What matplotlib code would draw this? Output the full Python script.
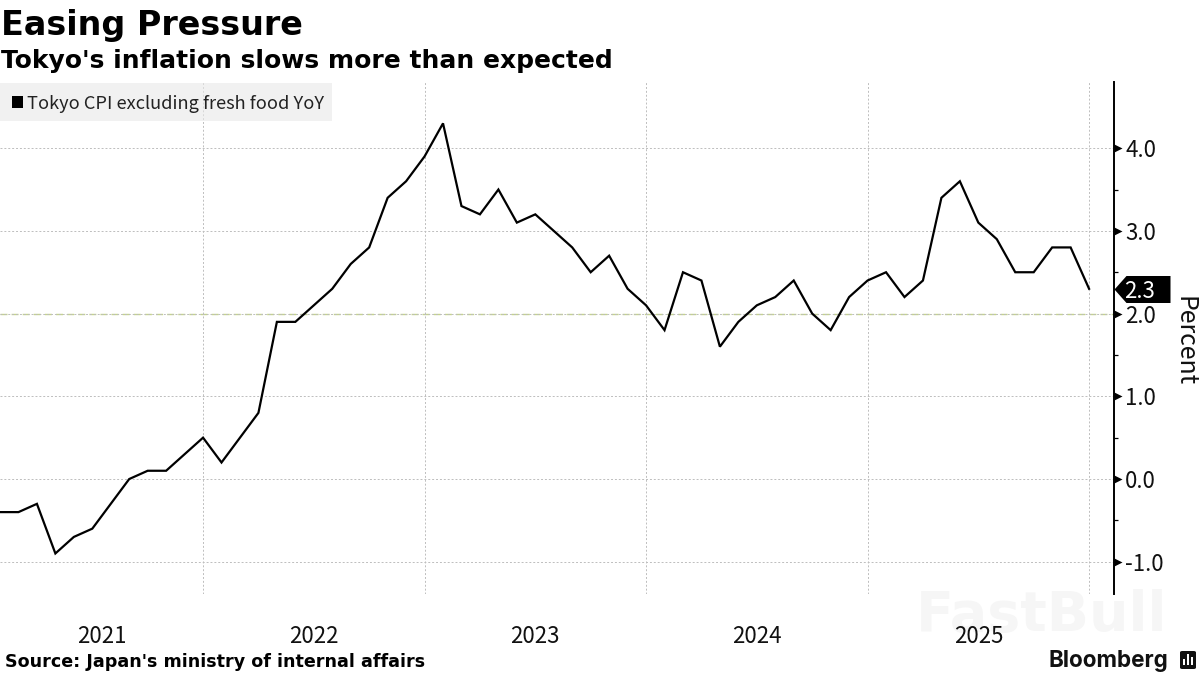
import matplotlib
matplotlib.use("Agg")
import matplotlib.pyplot as plt
from matplotlib.path import Path
from matplotlib.patches import Rectangle, FancyBboxPatch

plt.rcParams['font.family'] = ['Noto Sans CJK KR', 'DejaVu Sans']
BOLD = ['DejaVu Sans']

TITLE = "Easing Pressure"
SUBTITLE = "Tokyo's inflation slows more than expected"
SOURCE = "Source: Japan's ministry of internal affairs"
SERIES = "Tokyo CPI excluding fresh food YoY"
years = [2021, 2022, 2023, 2024, 2025]
y2021 = [-0.4, -0.4, -0.3, -0.9, -0.7, -0.6, -0.3, 0.0, 0.1, 0.1, 0.3, 0.5]
y2022 = [0.2, 0.5, 0.8, 1.9, 1.9, 2.1, 2.3, 2.6, 2.8, 3.4, 3.6, 3.9]
y2023 = [4.3, 3.3, 3.2, 3.5, 3.1, 3.2, 3.0, 2.8, 2.5, 2.7, 2.3, 2.1]
y2024 = [1.8, 2.5, 2.4, 1.6, 1.9, 2.1, 2.2, 2.4, 2.0, 1.8, 2.2, 2.4]
y2025 = [2.5, 2.2, 2.4, 3.4, 3.6, 3.1, 2.9, 2.5, 2.5, 2.8, 2.8, 2.3]
values = y2021 + y2022 + y2023 + y2024 + y2025
months = list(range(len(values)))
yticks = [-1.0, 0.0, 1.0, 2.0, 3.0, 4.0]
yminor = [-0.5, 0.5, 1.5, 2.5, 3.5]
target = 2.0

W, H = 1200, 675
fig = plt.figure(figsize=(12, 6.75), dpi=100, facecolor='white')
ax = fig.add_axes([0, 1 - 594 / H, 1114 / W, (594 - 82) / H])
ax.patch.set_visible(False)
ax.set_xlim(0, 60.35)
ax.set_ylim(-1.39, 4.8)
for s in ['top', 'left', 'bottom']:
    ax.spines[s].set_visible(False)
ax.spines['right'].set_linewidth(1.4)
ax.spines['right'].set_color('black')

ax.yaxis.tick_right()
ax.set_yticks(yticks)
ax.set_yticklabels([f"{v:.1f}" for v in yticks], fontsize=16, color='#111111')
ax.set_yticks(yminor, minor=True)
ax.tick_params(axis='y', which='major', length=0, width=0, pad=8)
ax.tick_params(axis='y', which='minor', length=3, width=0.9, color='black')
arrow = Path([(0, -4), (8, 0), (0, 4), (0, -4)], closed=True)
ax.plot([1] * len(yticks), yticks, ls='none', marker=arrow, ms=16 * 0.72, color='black', mew=0,
        transform=ax.get_yaxis_transform(), clip_on=False, zorder=5)

# one year label centred in each year's span; gridlines at each December
decembers = [11 + 12 * i for i in range(len(years))]
centres = [(a + b) / 2 for a, b in zip([0] + decembers[:-1], decembers)]
ax.set_xticks(centres)
ax.set_xticklabels([str(y) for y in years], fontsize=16, color='#111111')
ax.set_xticks(decembers, minor=True)
ax.tick_params(axis='x', which='both', length=0)
ax.tick_params(axis='x', which='major', pad=22)
ax.grid(True, axis='y', which='major', color='#bdbdbd', lw=0.7, ls=(0, (2, 2)), zorder=1)
ax.grid(True, axis='x', which='minor', color='#bdbdbd', lw=0.7, ls=(0, (2, 2)), zorder=1)
ax.axhline(target, color='#c5d58a', lw=1.0, ls=(0, (5, 3)), zorder=1.5)

ax.plot(months, values, color='black', lw=1.6, zorder=3, solid_joinstyle='miter')

# last-value tag
tag = Path([(0, 0), (12, -13.5), (56, -13.5), (56, 13.5), (12, 13.5), (0, 0)],
           closed=True)
ax.plot([1], [values[-1]], ls='none', marker=tag, ms=112 * 0.72, color='black', mew=0,
        transform=ax.get_yaxis_transform(), clip_on=False, zorder=6)
ax.annotate(f"{values[-1]:.1f}", xy=(1, values[-1]), xycoords=ax.get_yaxis_transform(),
            xytext=(26, 0), textcoords='offset pixels', color='white', fontsize=16,
            ha='center', va='center_baseline', annotation_clip=False, zorder=7)

def px(x, y):
    return x / W, 1 - y / H

# legend
fig.add_artist(Rectangle(px(0, 121), 332 / W, 38 / H, transform=fig.transFigure,
                         facecolor='#e9e9e9', alpha=0.6, edgecolor='none', zorder=4))
fig.add_artist(Rectangle(px(11.5, 108), 11 / W, 12 / H, transform=fig.transFigure,
                         facecolor='black', edgecolor='none', zorder=5))
fig.text(*px(27, 104), SERIES, fontsize=13.1, color='#222222', va='center', zorder=6)

fig.text(*px(1, 25), TITLE, fontsize=24, fontweight='bold', color='black', va='center', family=BOLD)
fig.text(*px(1, 61), SUBTITLE, fontsize=18, fontweight='bold', color='black', va='center', family=BOLD)
fig.text(*px(5, 662), SOURCE, fontsize=12.6, fontweight='bold', color='black', va='center', family=BOLD)
fig.text(*px(1184, 341), "Percent", fontsize=18, rotation=270, color='#111111',
         ha='center', va='center')
fig.text(*px(1042, 616), "FastBull", fontsize=40, fontweight='bold', color='#f6f6f6',
         ha='center', va='center', zorder=-1, family=BOLD)

# Bloomberg mark
fig.text(*px(1168, 661), "Bloomberg", fontsize=16.2, fontweight='bold', color='#111111',
         ha='right', va='center', family=['Inter', 'DejaVu Sans'])
fig.add_artist(FancyBboxPatch(px(1180, 669), 16 / W, 18 / H, transform=fig.transFigure,
                              boxstyle="round,pad=0,rounding_size=0.002",
                              facecolor='#111111', edgecolor='none'))
for bx, bh in [(1183, 6), (1187, 11), (1191, 8)]:
    fig.add_artist(Rectangle(px(bx, 665), 2 / W, bh / H, transform=fig.transFigure,
                             facecolor='white', edgecolor='none', zorder=5))

fig.savefig("out.png", dpi=100)
